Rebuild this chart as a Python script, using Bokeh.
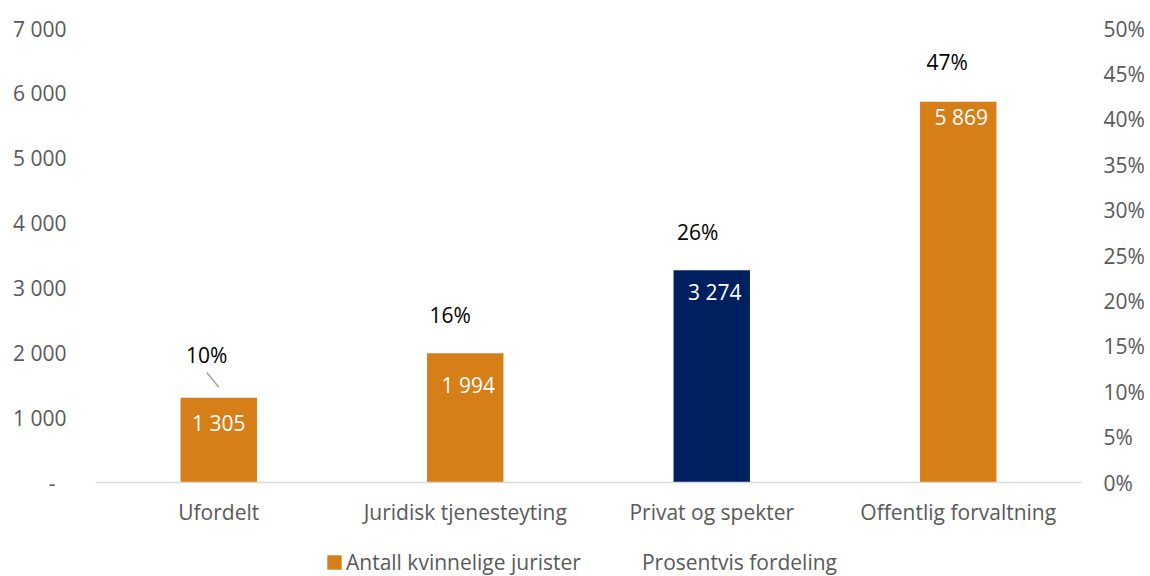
from bokeh.plotting import figure
from bokeh.layouts import column
from bokeh.models import (Range1d, LinearAxis, FactorRange, FixedTicker, Legend,
                          LegendItem, ColumnDataSource)
from bokeh.core.properties import value
from bokeh.embed import file_html
from bokeh.resources import INLINE

# ---- data ----
categories = ["Ufordelt", "Juridisk tjenesteyting", "Privat og spekter", "Offentlig forvaltning"]
counts = [1305, 1994, 3274, 5869]
count_labels = ["1 305", "1 994", "3 274", "5 869"]
shares = [0.1049, 0.1603, 0.2631, 0.4717]
share_labels = ["10%", "16%", "26%", "47%"]
left_ticks = [0, 1000, 2000, 3000, 4000, 5000, 6000, 7000]
left_tick_labels = ["-\u00a0\u00a0", "1 000", "2 000", "3 000", "4 000", "5 000", "6 000", "7 000"]
right_ticks = [0, 0.05, 0.1, 0.15, 0.2, 0.25, 0.3, 0.35, 0.4, 0.45, 0.5]
right_tick_labels = ["0%", "5%", "10%", "15%", "20%", "25%", "30%", "35%", "40%", "45%", "50%"]
series_names = ["Antall kvinnelige jurister", "Prosentvis fordeling"]

# ---- styles ----
ORANGE = "#D67E18"
NAVY = "#002060"
GREY = "#595959"
FONT = "Open Sans"
FS = "21px"
bar_colors = [ORANGE, ORANGE, NAVY, ORANGE]
bar_label_dx = [0, 3, 3, 3]
bar_label_dy = [25, 32, 22, 15]
pct_label_dx = [-12, -15, -14, -11]
pct_label_dy = [-32, -22, -12, 8]

src = ColumnDataSource(dict(
    cat=categories, count=counts, count_label=count_labels,
    share=shares, share_label=share_labels, color=bar_colors,
    bdx=bar_label_dx, bdy=bar_label_dy, pdx=pct_label_dx, pdy=pct_label_dy,
))

p = figure(x_range=FactorRange(*categories), y_range=Range1d(0, 7000),
           width=1150, height=544, output_backend="svg", toolbar_location=None,
           min_border_left=95, min_border_right=69, min_border_top=28, min_border_bottom=62)
p.extra_y_ranges = {"pct": Range1d(0, 0.5)}
p.outline_line_color = None
p.xgrid.grid_line_color = None
p.ygrid.grid_line_color = None
p.background_fill_color = "white"
p.border_fill_color = "white"

# left axis
ya = p.yaxis[0]
ya.ticker = FixedTicker(ticks=left_ticks)
ya.major_label_overrides = dict(zip(left_ticks, left_tick_labels))
ya.axis_line_color = None
ya.major_tick_line_color = None
ya.minor_tick_line_color = None
ya.major_tick_out = 0
ya.major_tick_in = 0
ya.major_label_standoff = 29
ya.major_label_text_font = FONT
ya.major_label_text_font_size = FS
ya.major_label_text_color = GREY

# right axis
ra = LinearAxis(y_range_name="pct")
ra.ticker = FixedTicker(ticks=right_ticks)
ra.major_label_overrides = dict(zip(right_ticks, right_tick_labels))
ra.axis_line_color = None
ra.major_tick_line_color = None
ra.minor_tick_line_color = None
ra.major_tick_out = 0
ra.major_tick_in = 0
ra.major_label_standoff = 22
ra.major_label_text_font = FONT
ra.major_label_text_font_size = FS
ra.major_label_text_color = GREY
p.add_layout(ra, "right")

# x axis
xa = p.xaxis[0]
xa.axis_line_color = "#D9D9D9"
xa.axis_line_width = 1.5
xa.major_tick_line_color = None
xa.minor_tick_line_color = None
xa.major_tick_out = 0
xa.major_tick_in = 0
xa.major_label_standoff = 15
xa.major_label_text_font = FONT
xa.major_label_text_font_size = FS
xa.major_label_text_color = GREY

p.vbar(x="cat", top="count", width=0.31, source=src,
       fill_color="color", line_color=None)

p.text(x="cat", y="count", text="count_label", source=src,
       x_offset="bdx", y_offset="bdy", text_align="center", text_baseline="middle",
       text_color="white", text_font=value(FONT), text_font_size=value(FS))

p.line(x="cat", y="share", source=src, y_range_name="pct", line_alpha=0)

p.text(x="cat", y="share", text="share_label", source=src, y_range_name="pct",
       x_offset="pdx", y_offset="pdy", text_align="center", text_baseline="middle",
       text_color="black", text_font=value(FONT), text_font_size=value(FS))

# leader line for the first percentage label
p.ray(x=[categories[0]], y=[shares[0]], length=19, length_units="screen",
      angle=128.7, angle_units="deg", y_range_name="pct",
      line_color="#A6A6A6", line_width=1.5)

# ---- legend strip below the chart (its frame is aligned with the chart's) ----
lg = figure(width=1150, height=32, output_backend="svg", toolbar_location=None,
            x_axis_type=None, y_axis_type=None,
            x_range=p.x_range, y_range=Range1d(100000, 100001),
            min_border_left=0, min_border_right=0, min_border_top=0, min_border_bottom=0)
lg.outline_line_color = None
lg.xgrid.grid_line_color = None
lg.ygrid.grid_line_color = None
lg.background_fill_color = "white"
lg.border_fill_color = "white"
# same series, drawn far outside the strip's visible range: only their legend keys show
bar_key = lg.vbar(x="cat", top="count", width=0.31, source=src,
                  fill_color=ORANGE, line_color=None)
line_key = lg.line(x="cat", y="share", source=src, line_alpha=0)

legend = Legend(items=[LegendItem(label=series_names[0], renderers=[bar_key], index=0),
                       LegendItem(label=series_names[1], renderers=[line_key])],
                location=(230, 0), orientation="horizontal",
                glyph_width=18, glyph_height=18, label_standoff=3, spacing=40,
                padding=0, margin=0, border_line_color=None,
                background_fill_alpha=0,
                label_text_font=FONT, label_text_font_size=FS, label_text_color=GREY)
lg.add_layout(legend)

layout = column(p, lg, spacing=0)
open("out.html", "w").write(file_html(layout, INLINE))
